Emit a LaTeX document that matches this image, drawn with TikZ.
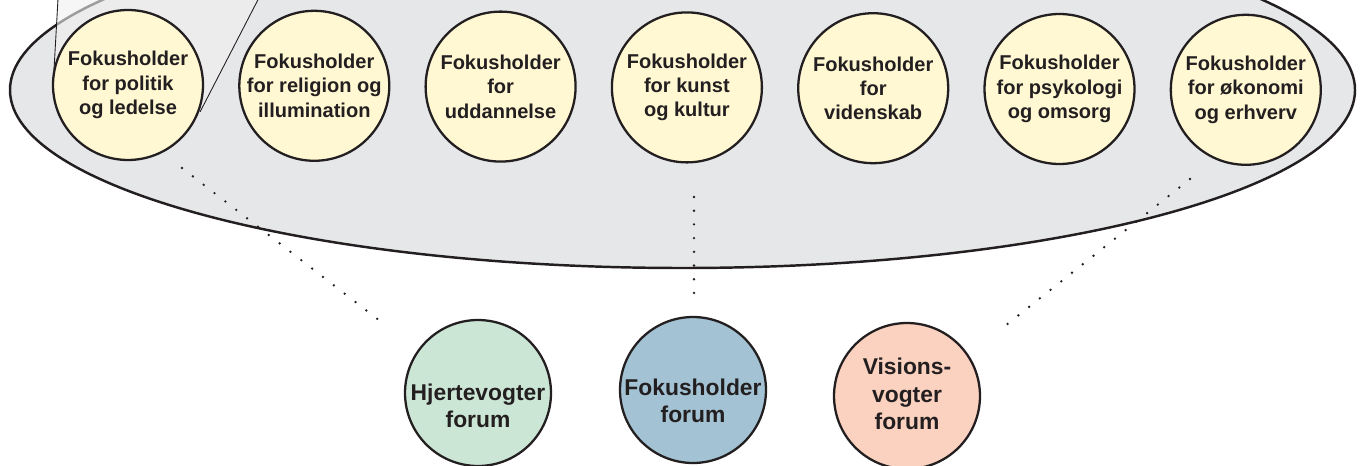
\documentclass[tikz,border=0pt]{standalone}
\usepackage{fontspec}
\setmainfont{Liberation Sans}

\definecolor{fokusgul}{HTML}{FFF8D3}
\definecolor{feltgraa}{HTML}{E6E7E9}
\definecolor{hjerte}{HTML}{CCE6D5}
\definecolor{fokus}{HTML}{A3C2D3}
\definecolor{vision}{HTML}{FBD1BF}
\definecolor{tekst}{HTML}{231F20}

\begin{document}
\begin{tikzpicture}[x=0.02cm,y=-0.02cm,
    holder/.style={circle,draw=tekst,line width=1.3pt,fill=fokusgul,
        minimum size=3cm,inner sep=0pt,align=center,text=tekst,
        font=\fontsize{11.4}{13.8}\selectfont\bfseries},
    forum/.style={circle,draw=tekst,line width=1.3pt,minimum size=2.92cm,
        inner sep=0pt},
    forumtekst/.style={align=center,text=tekst,inner sep=0pt,
        font=\fontsize{13}{15.6}\selectfont\bfseries},
    prikker/.style={draw=tekst,line width=1.5pt,line cap=round,
        dash pattern=on 0pt off 7.8pt},
]
    \useasboundingbox (0,0) rectangle (1361,466);
    \clip (0,0) rectangle (1361,466);

    % the big field
    \draw[fill=feltgraa,draw=tekst,line width=1.4pt] (682.5,90) ellipse (672.5 and 178);

    % cone up to the part outside the picture
    \fill[gray!12,opacity=0.6] (58,-10) -- (54,70) -- (200,112) -- (263,-10) -- cycle;
    \draw[tekst,line width=0.5pt] (54,70) -- (58.5,-10);
    \draw[tekst,line width=0.5pt] (200,112) -- (263,-10);

    % dotted links
    \coordinate (vh1) at (182,168);
    \coordinate (vh2) at (380,321);
    \coordinate (mf1) at (694,197);
    \coordinate (mf2) at (694,296);
    \coordinate (hv1) at (1190,179);
    \coordinate (hv2) at (1005,326);
    \draw[prikker] (vh1) -- (vh2);
    \draw[prikker] (mf1) -- (mf2);
    \draw[prikker] (hv1) -- (hv2);

    \foreach \i/\txt in {1/{Fokusholder\\for politik\\og ledelse},
                         2/{Fokusholder\\for religion og\\illumination},
                         3/{Fokusholder\\for\\uddannelse},
                         4/{Fokusholder\\for kunst\\og kultur},
                         5/{Fokusholder\\for\\videnskab},
                         6/{Fokusholder\\for psykologi\\og omsorg},
                         7/{Fokusholder\\for økonomi\\og erhverv}} {
        \pgfmathsetmacro{\xpos}{128+186.3*(\i-1)}
        \pgfmathsetmacro{\ypos}{85+0.8*(\i-1)}
        \node[holder] (h\i) at (\xpos,\ypos) {\txt};
    }

    \foreach \navn/\xpos/\ypos/\farve/\dy/\txt in
            {hv/478/393/hjerte/13/{Hjertevogter\\forum},
             fh/693/390/fokus/11/{Fokusholder\\forum},
             vv/907/396/vision/-2/{Visions-\\vogter\\forum}} {
        \node[forum,fill=\farve] (\navn) at (\xpos,\ypos) {};
        \node[forumtekst] (\navn-tekst) at (\xpos,\ypos+\dy) {\txt};
    }
\end{tikzpicture}
\end{document}
